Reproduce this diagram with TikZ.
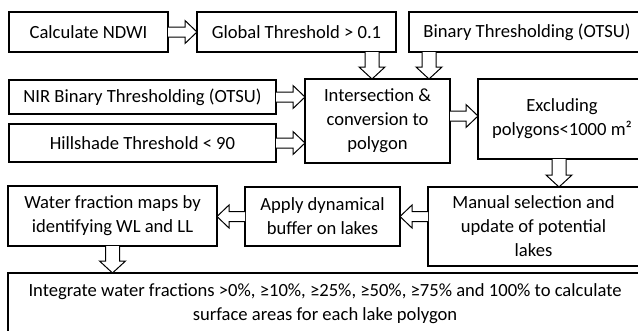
\documentclass[tikz,border=0pt]{standalone}
\usepackage{fontspec}
\setmainfont{Carlito}
\usetikzlibrary{calc}

% block arrow dimensions
\def\hs{5pt}   % half shaft width (horizontal arrows)
\def\hh{11.5pt}% half head width (horizontal arrows)
\def\vs{7pt}   % half shaft width (vertical arrows)
\def\vh{13pt}  % half head width (vertical arrows)
\def\hl{12pt}  % head length

% hollow block arrows: #1 = tail point, #2 = tip point
\newcommand\rarr[2]{\draw[blk] let \p1=(#1), \p2=(#2) in
  (\x1,\y1+\hs) -- (\x2-\hl,\y1+\hs) -- (\x2-\hl,\y1+\hh) -- (\x2,\y1)
  -- (\x2-\hl,\y1-\hh) -- (\x2-\hl,\y1-\hs) -- (\x1,\y1-\hs);}
\newcommand\larr[2]{\draw[blk] let \p1=(#1), \p2=(#2) in
  (\x1,\y1+\hs) -- (\x2+\hl,\y1+\hs) -- (\x2+\hl,\y1+\hh) -- (\x2,\y1)
  -- (\x2+\hl,\y1-\hh) -- (\x2+\hl,\y1-\hs) -- (\x1,\y1-\hs);}
\newcommand\darr[2]{\draw[blk] let \p1=(#1), \p2=(#2) in
  (\x1-\vs,\y1) -- (\x1-\vs,\y2+\hl) -- (\x1-\vh,\y2+\hl) -- (\x1,\y2)
  -- (\x1+\vh,\y2+\hl) -- (\x1+\vs,\y2+\hl) -- (\x1+\vs,\y1);}

\begin{document}
\begin{tikzpicture}[x=1pt,y=-1pt,
  box/.style={draw, line width=1.1pt, inner sep=0pt, outer sep=0pt,
    anchor=north west, align=center,
    font=\fontsize{18.6}{24}\selectfont},
  blk/.style={draw, line width=1pt, fill=white, line join=miter}]
\clip (0,0) rectangle (638,330);

% process boxes
\node[box, minimum width=159pt, minimum height=40pt] (ndwi) at (9,12) {Calculate NDWI};
\node[box, minimum width=199pt, minimum height=40pt] (glob) at (197,12) {Global Threshold {>} 0.1};
\node[box, minimum width=236pt, minimum height=40pt] (bin) at (409,12) {Binary Thresholding (OTSU)};
\node[box, minimum width=267pt, minimum height=34pt] (nir) at (9,80) {NIR Binary Thresholding (OTSU)};
\node[box, minimum width=267pt, minimum height=38pt] (hill) at (9,124) {Hillshade Threshold {<} 90};
\node[box, minimum width=145pt, minimum height=84pt] (inter) at (305,79) {Intersection \&\\conversion to\\polygon};
\node[box, minimum width=168pt, minimum height=80pt] (excl) at (478,79) {Excluding\\polygons<1000 m²};
\node[box, minimum width=211pt, minimum height=79pt] (man) at (428,187) {Manual selection and\\update of potential\\lakes};
\node[box, minimum width=155pt, minimum height=59pt] (apply) at (245,187) {Apply dynamical\\buffer on lakes};
\node[box, minimum width=209pt, minimum height=60pt] (water) at (8,186) {Water fraction maps by\\identifying WL and LL};
\node[box, minimum width=634pt, minimum height=62pt] (integ) at (8,273) {Integrate water fractions >0\%, ≥10\%, ≥25\%, ≥50\%, ≥75\% and 100\% to calculate\\surface areas for each lake polygon};

% arrow tips on the intersection box and the selection box
\coordinate (t1) at ([xshift=-5.5pt]inter.north);
\coordinate (t2) at ([xshift=51.5pt]inter.north);
\coordinate (t3) at ([xshift=-3pt]excl.south);

% connectors
\rarr{ndwi.east}{glob.west}
\darr{glob.south -| t1}{t1}
\darr{bin.south -| t2}{t2}
\rarr{nir.east}{nir.east -| inter.west}
\rarr{hill.east}{hill.east -| inter.west}
\rarr{[yshift=5pt]inter.east}{[yshift=5pt]inter.east -| excl.west}
\darr{t3}{t3 |- man.north}
\larr{man.west |- apply.east}{apply.east}
\larr{apply.west}{apply.west -| water.east}
\darr{water.south}{water.south |- integ.north}
\end{tikzpicture}
\end{document}
